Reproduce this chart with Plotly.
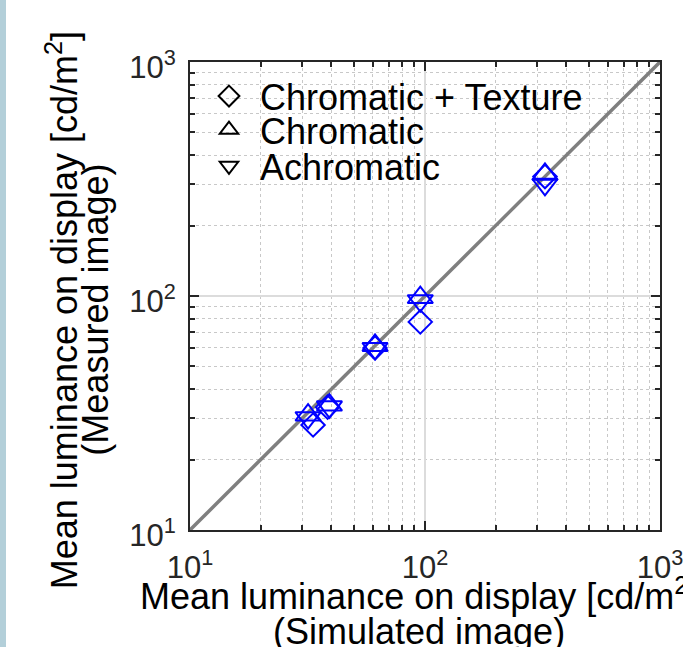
import plotly.graph_objects as go

# ---- data ----
ct_x = [33.4, 38.5, 61.3, 95.5, 324.0]   # Chromatic + Texture (simulated)
ct_y = [28.1, 33.5, 60.0, 77.5, 324.0]   # Chromatic + Texture (measured)
ch_x = [31.8, 39.2, 61.3, 95.5, 324.0]   # Chromatic
ch_y = [31.0, 34.2, 61.5, 98.5, 331.0]
ac_x = [31.8, 39.2, 61.3, 95.5, 324.0]   # Achromatic
ac_y = [30.2, 33.6, 59.7, 95.5, 300.0]
diag = [10, 1000]                          # identity line
tick_vals = [10, 100, 1000]
tick_text = ["10<sup>1</sup>", "10<sup>2</sup>", "10<sup>3</sup>"]
minor_vals = [m * 10 ** e for e in (1, 2) for m in range(2, 10)]
legend_names = ["Chromatic + Texture", "Chromatic", "Achromatic"]
x_title = ["Mean luminance on display [cd/m<sup>2</sup>]", "(Simulated image)"]
y_title = ["Mean luminance on display [cd/m<sup>2</sup>]", "(Measured image)"]

BLUE = "#0000ff"
FONT = "Liberation Sans, Arial, Helvetica, sans-serif"

fig = go.Figure()
fig.add_trace(go.Scatter(x=diag, y=diag, mode="lines",
                         line=dict(color="#7f7f7f", width=3.5),
                         showlegend=False, hoverinfo="skip"))

series = [(ct_x, ct_y, "diamond-open", 18),
          (ch_x, ch_y, "triangle-up-open", 22),
          (ac_x, ac_y, "triangle-down-open", 22)]
for (xs, ys, sym, sz) in series:
    fig.add_trace(go.Scatter(x=xs, y=ys, mode="markers",
                             marker=dict(symbol=sym, size=sz, color=BLUE,
                                         line=dict(color=BLUE, width=2)),
                             showlegend=False))

legend_keys = ["legend", "legend2", "legend3"]
for (xs, ys, sym, sz), name, key in zip(series, legend_names, legend_keys):
    fig.add_trace(go.Scatter(x=[None], y=[None], mode="markers", name=name,
                             marker=dict(symbol=sym, size=16, color="black",
                                         line=dict(color="black", width=2)),
                             legend=key))

axis_common = dict(
    type="log", range=[1, 3], automargin=False,
    tickmode="array", tickvals=tick_vals, ticktext=tick_text,
    ticks="inside", ticklen=9, tickwidth=1.5, tickcolor="#262626",
    showline=True, linecolor="#262626", linewidth=2, mirror="allticks",
    showgrid=True, gridcolor="#dcdcdc", gridwidth=1.5,
    zeroline=False, ticklabeloverflow="allow",
    tickfont=dict(family=FONT, size=31, color="#262626"),
    minor=dict(tickmode="array", tickvals=minor_vals, ticks="inside",
               ticklen=5, tickcolor="#262626", showgrid=True,
               gridcolor="#c8c8c8", griddash="dot", gridwidth=1),
)
fig.update_xaxes(**axis_common, ticklabelstandoff=9)
fig.update_yaxes(**axis_common, ticklabelstandoff=6, ticklabelshift=5)

title_font = dict(family=FONT, size=36, color="black")
annotations = [
    dict(text=x_title[0], x=0.487, y=-0.136),
    dict(text=x_title[1], x=0.487, y=-0.216),
    dict(text=y_title[0], x=-0.272, y=0.47, textangle=-90),
    dict(text=y_title[1], x=-0.203, y=0.47, textangle=-90),
]
for a in annotations:
    a.update(xref="paper", yref="paper", xanchor="center", yanchor="middle",
             showarrow=False, font=title_font)

leg_common = dict(font=dict(family=FONT, size=36, color="black"),
                  bgcolor="rgba(0,0,0,0)", borderwidth=0, itemwidth=52,
                  xanchor="left", yanchor="middle", x=0.017)
fig.update_layout(
    width=683, height=647, autosize=False,
    margin=dict(l=190, r=23, t=62, b=117, autoexpand=False),
    paper_bgcolor="white", plot_bgcolor="white",
    legend=dict(**leg_common, y=0.927),
    legend2=dict(**leg_common, y=0.855),
    legend3=dict(**leg_common, y=0.778),
    annotations=annotations,
    shapes=[dict(type="rect", xref="paper", yref="paper",
                 x0=-190 / 470, x1=-184 / 470, y0=-117 / 468, y1=1 + 62 / 468,
                 fillcolor="#b3cfd9", line=dict(width=0), layer="below")],
)

fig.write_html(
    "out.html",
    config={"responsive": False, "displayModeBar": False},
    post_script="document.body.style.margin='0px';"
                "document.body.style.overflow='hidden';",
)
